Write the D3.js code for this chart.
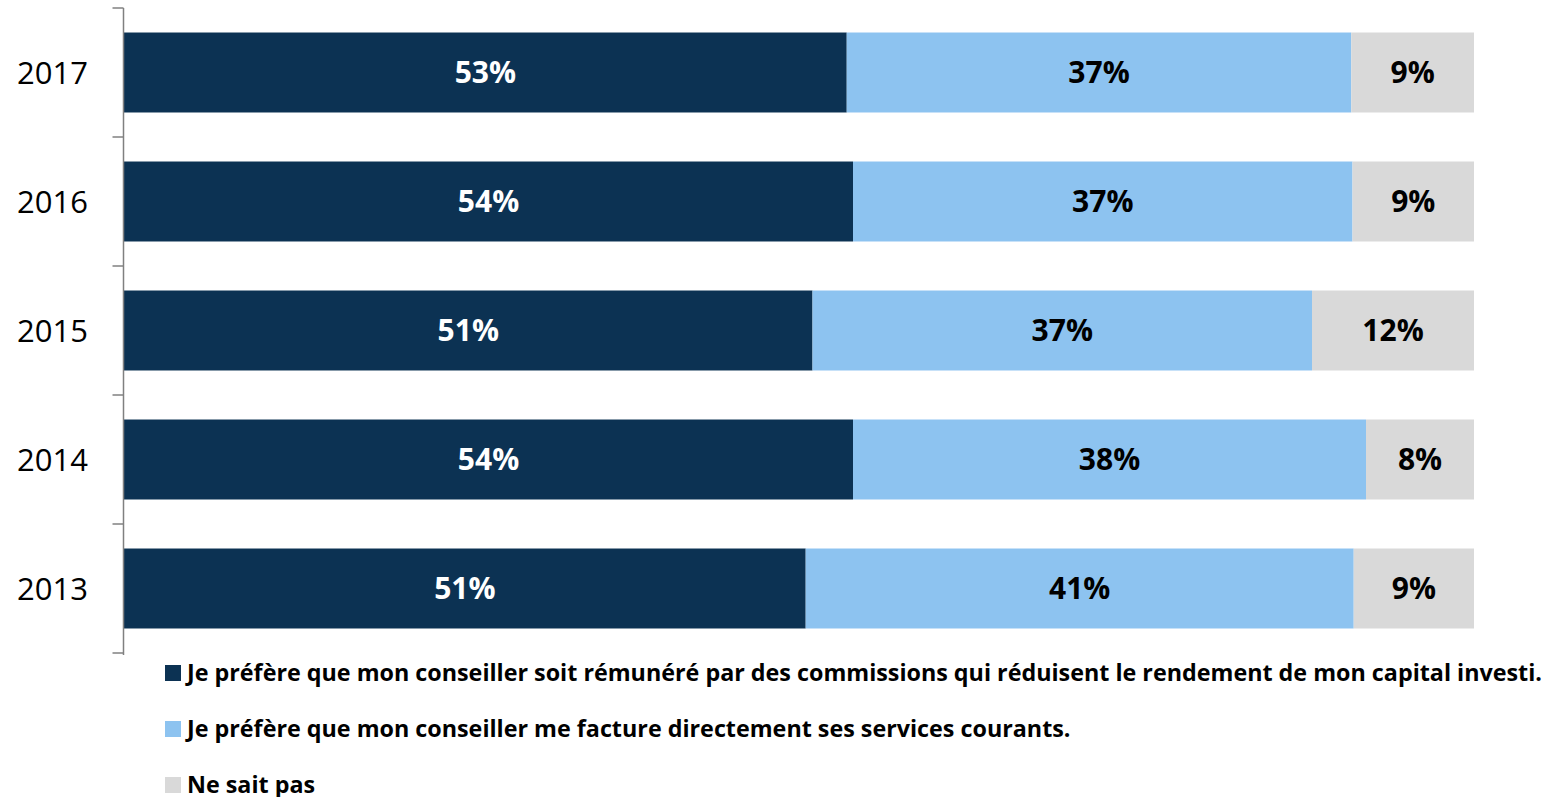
<!DOCTYPE html>
<html lang="fr">
<head>
<meta charset="UTF-8">
<title>Rémunération du conseiller</title>
<script src="https://cdn.jsdelivr.net/npm/d3@7/dist/d3.min.js"></script>
<style>
  body { margin: 0; background: #fff; }
  text { font-family: "Open Sans", Lato, sans-serif; }
</style>
</head>
<body>
<svg width="1543" height="797"></svg>
<script>
// données
var years = ["2017", "2016", "2015", "2014", "2013"];
var commissions = [53, 54, 51, 54, 51];
var facture = [37, 37, 37, 38, 41];
var neSaitPas = [9, 9, 12, 8, 9];
var seriesNames = [
  "Je préfère que mon conseiller soit rémunéré par des commissions qui réduisent le rendement de mon capital investi.",
  "Je préfère que mon conseiller me facture directement ses services courants.",
  "Ne sait pas"
];
var colors = ["#0c3253", "#8dc3f0", "#d9d9d9"];
var labelColors = ["#fff", "#000", "#000"];

var rows = years.map(function (y, i) {
  return { year: y, s0: commissions[i], s1: facture[i], s2: neSaitPas[i] };
});
var keys = ["s0", "s1", "s2"];

var svg = d3.select("svg");
var marge = { left: 124, right: 1474, top: 8, bottom: 653 };

var x = d3.scaleLinear().domain([0, 1]).range([marge.left, marge.right]);
var y = d3.scaleBand().domain(years).range([marge.top, marge.bottom]).paddingInner(0.38).paddingOuter(0.19);

// empilement normalisé à 100 %
var stack = d3.stack().keys(keys).offset(d3.stackOffsetExpand);
var stacked = stack(rows);

var layers = svg.selectAll(".layer")
  .data(stacked)
  .enter()
  .append("g")
  .attr("class", "layer")
  .attr("fill", function (d, i) { return colors[i]; });

layers.selectAll("rect")
  .data(function (d) { return d; })
  .enter()
  .append("rect")
  .attr("x", function (d) { return x(d[0]); })
  .attr("y", function (d) { return y(d.data.year); })
  .attr("width", function (d) { return x(d[1]) - x(d[0]); })
  .attr("height", y.bandwidth());

// étiquettes de valeurs
layers.each(function (layer, li) {
  d3.select(this).selectAll("text")
    .data(layer)
    .enter()
    .append("text")
    .attr("x", function (d) { return (x(d[0]) + x(d[1])) / 2; })
    .attr("y", function (d) { return y(d.data.year) + y.bandwidth() / 2; })
    .attr("dy", "0.36em")
    .attr("text-anchor", "middle")
    .attr("fill", labelColors[li])
    .style("font-size", "30px")
    .style("font-weight", "bold")
    .text(function (d) { return d.data[layer.key] + "%"; });
});

// axe vertical
var yTicks = d3.scaleLinear().domain([0, years.length]).range([marge.top, marge.bottom]);
var axisG = svg.append("g").attr("transform", "translate(" + (marge.left - 0.5) + ",0)");
axisG.append("line")
  .attr("y1", marge.top).attr("y2", marge.bottom + 2)
  .attr("stroke", "#808080").attr("stroke-width", 1.5);
axisG.selectAll(".tick")
  .data(d3.range(years.length + 1))
  .enter()
  .append("line")
  .attr("class", "tick")
  .attr("x1", -11).attr("x2", 0)
  .attr("y1", function (d) { return yTicks(d); })
  .attr("y2", function (d) { return yTicks(d); })
  .attr("stroke", "#808080").attr("stroke-width", 1.5);

svg.selectAll(".year")
  .data(years)
  .enter()
  .append("text")
  .attr("class", "year")
  .attr("x", 88)
  .attr("y", function (d) { return y(d) + y.bandwidth() / 2; })
  .attr("dy", "0.36em")
  .attr("text-anchor", "end")
  .attr("fill", "#000")
  .style("font-size", "31px")
  .text(function (d) { return d; });

// légende
var legend = svg.selectAll(".legend")
  .data(seriesNames)
  .enter()
  .append("g")
  .attr("class", "legend")
  .attr("transform", function (d, i) { return "translate(165," + (673 + i * 56) + ")"; });

legend.append("rect")
  .attr("x", 0).attr("y", -8)
  .attr("width", 16).attr("height", 16)
  .attr("fill", function (d, i) { return colors[i]; });

legend.append("text")
  .attr("x", 22)
  .attr("dy", "0.36em")
  .attr("fill", "#000")
  .style("font-size", "23.3px")
  .style("font-weight", "bold")
  .text(function (d) { return d; });
</script>
</body>
</html>
